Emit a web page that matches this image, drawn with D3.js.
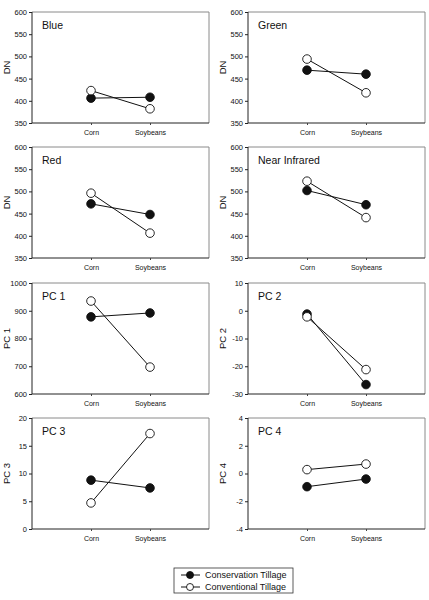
<!DOCTYPE html>
<html><head><meta charset="utf-8">
<script src="https://cdn.jsdelivr.net/npm/d3@7"></script>
<style>
body{margin:0;background:#fff;}
svg{display:block;font-family:"Liberation Sans",Arial,sans-serif;}
</style></head>
<body>
<svg id="c" width="429" height="600"></svg>
<script>
const categories = ["Corn", "Soybeans"];
const panelTitles = ["Blue", "Green", "Red", "Near Infrared", "PC 1", "PC 2", "PC 3", "PC 4"];
const yLabels = ["DN", "DN", "DN", "DN", "PC 1", "PC 2", "PC 3", "PC 4"];
const yDomains = [[350,600],[350,600],[350,600],[350,600],[600,1000],[-30,10],[0,20],[-4,4]];
const yTicks = [
  [350,400,450,500,550,600],
  [350,400,450,500,550,600],
  [350,400,450,500,550,600],
  [350,400,450,500,550,600],
  [600,700,800,900,1000],
  [-30,-20,-10,0,10],
  [0,5,10,15,20],
  [-4,-2,0,2,4]
];
// Conservation Tillage (filled) — [Corn, Soybeans] per panel
const conservation = [
  [406, 408], [469, 460], [472, 448], [502, 470],
  [878, 892], [-1.2, -26.6], [8.8, 7.4], [-0.95, -0.4]
];
// Conventional Tillage (open)
const conventional = [
  [423, 382], [494, 418], [496, 406], [523, 441],
  [935, 697], [-2.2, -21.2], [4.7, 17.2], [0.28, 0.68]
];
const seriesNames = ["Conservation Tillage", "Conventional Tillage"];

const svg = d3.select("#c");
const colX = [32, 248];
const rowY = [12, 147, 283, 418];
const W = 177, H = 111;

panelTitles.forEach((title, i) => {
  const x0 = colX[i % 2], y0 = rowY[Math.floor(i / 2)];
  const g = svg.append("g").attr("transform", `translate(${x0},${y0})`);
  const x = d3.scalePoint().domain(categories).range([0, W]).padding(1);
  const y = d3.scaleLinear().domain(yDomains[i]).range([H, 0]);

  // frame top/right
  g.append("path").attr("d", `M0,0H${W}V${H}`).attr("fill", "none")
    .attr("stroke", "#8a8a8a").attr("stroke-width", 1);

  const ya = g.append("g").call(d3.axisLeft(y).tickValues(yTicks[i]).tickSize(3).tickPadding(2).tickFormat(d => String(d)));
  ya.select(".domain").attr("stroke", "#222").attr("d", `M0,0V${H}`);
  ya.selectAll("line").attr("stroke", "#222");
  ya.selectAll("text").attr("font-size", 7.5).attr("fill", "#111").attr("font-family", "Liberation Sans, Arial, sans-serif");

  const xa = g.append("g").attr("transform", `translate(0,${H})`).call(d3.axisBottom(x).tickSize(2).tickPadding(5));
  xa.select(".domain").attr("stroke", "#222").attr("d", `M0,0H${W}`);
  xa.selectAll("line").attr("stroke", "#444");
  xa.selectAll("text").attr("font-size", 7).attr("fill", "#111").attr("font-family", "Liberation Sans, Arial, sans-serif");

  g.append("text").attr("x", 10).attr("y", 17).attr("font-size", 10.5).attr("fill", "#111").text(title);

  g.append("text").attr("transform", `translate(${-22},${H / 2}) rotate(-90)`)
    .attr("text-anchor", "middle").attr("font-size", 9.5).attr("fill", "#111").text(yLabels[i]);

  const line = d3.line().x((d, k) => x(categories[k])).y(d => y(d));
  [conservation[i], conventional[i]].forEach((vals, s) => {
    g.append("path").attr("d", line(vals)).attr("fill", "none").attr("stroke", "#111").attr("stroke-width", 1);
  });
  [conservation[i], conventional[i]].forEach((vals, s) => {
    g.selectAll(null).data(vals).enter().append("circle")
      .attr("cx", (d, k) => x(categories[k])).attr("cy", d => y(d)).attr("r", 4.3)
      .attr("fill", s === 0 ? "#111" : "#fff").attr("stroke", "#111").attr("stroke-width", 0.9);
  });
});

// legend
const lg = svg.append("g").attr("transform", "translate(174,568)");
lg.append("rect").attr("width", 119).attr("height", 25).attr("fill", "#fff").attr("stroke", "#333").attr("stroke-width", 0.8);
seriesNames.forEach((name, s) => {
  const yy = 7 + s * 12;
  lg.append("line").attr("x1", 7).attr("x2", 26).attr("y1", yy).attr("y2", yy).attr("stroke", "#111");
  lg.append("circle").attr("cx", 16).attr("cy", yy).attr("r", 3.5)
    .attr("fill", s === 0 ? "#111" : "#fff").attr("stroke", "#111").attr("stroke-width", 0.9);
  lg.append("text").attr("x", 31).attr("y", yy + 3).attr("font-size", 9).attr("fill", "#111").text(name);
});
</script>
</body></html>
